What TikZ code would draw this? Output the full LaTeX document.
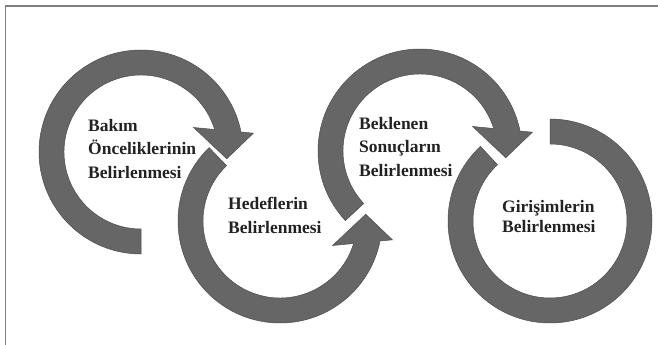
\documentclass[tikz,border=0pt]{standalone}
\usepackage{fontspec}
\setmainfont{Liberation Serif}
\usepackage{tikz}

\definecolor{arcgray}{RGB}{102,102,102}
\definecolor{textgray}{RGB}{34,34,34}

\begin{document}
\begin{tikzpicture}[x=1pt, y=1pt,
    ring/.style={fill=arcgray, draw=arcgray!75!black, line width=0.5pt},
    stagetext/.style={anchor=base west, align=left, inner sep=0pt, text=textgray,
        font=\fontsize{17.5}{23.5}\selectfont\bfseries}]
    \useasboundingbox (0,0) rectangle (658,-345);
    % Frame
    \draw[gray, line width=1.6pt] (658,-6) -- (5.5,-6) -- (5.5,-345);

    % Define centres
    \coordinate (c1) at (141,-152);
    \coordinate (c2) at (280,-221);
    \coordinate (c3) at (420,-151);
    \coordinate (c4) at (550,-221);

    % Draw arrows
    \filldraw[ring, shift={(c1)}] (270:102) arc[start angle=270, end angle=11.3, radius=102pt]
        -- (9.5:114) -- (-4.5:86) -- (25:58) -- (17:77)
        arc[start angle=17, end angle=270, radius=77pt] -- cycle;
    \filldraw[ring, shift={(c2)}] (134:102) arc[start angle=134, end angle=348.7, radius=102pt]
        -- (-9.5:114) -- (4.5:86) -- (-25:58) -- (-17:77)
        arc[start angle=343, end angle=134, radius=77pt] -- cycle;
    \filldraw[ring, shift={(c3)}] (223:102) arc[start angle=223, end angle=11.3, radius=102pt]
        -- (9.5:114) -- (-4.5:86) -- (25:58) -- (17:77)
        arc[start angle=17, end angle=223, radius=77pt] -- cycle;
    \filldraw[ring, shift={(c4)}] (133:102) arc[start angle=133, end angle=450, radius=102pt]
        -- (90:77) arc[start angle=450, end angle=133, radius=77pt] -- cycle;

    % Define nodes (anchored at the last line)
    \node[stagetext] (bakim) at (88,-178) {Bakım\\Önceliklerinin\\Belirlenmesi};
    \node[stagetext] (hedef) at (228,-233) {Hedeflerin\\Belirlenmesi};
    \node[stagetext] (sonuc) at (359,-176) {Beklenen\\Sonuçların\\Belirlenmesi};
    \node[stagetext, font=\fontsize{17.5}{20}\selectfont\bfseries] (girisim) at (502,-232) {Girişimlerin\\Belirlenmesi};
\end{tikzpicture}
\end{document}
